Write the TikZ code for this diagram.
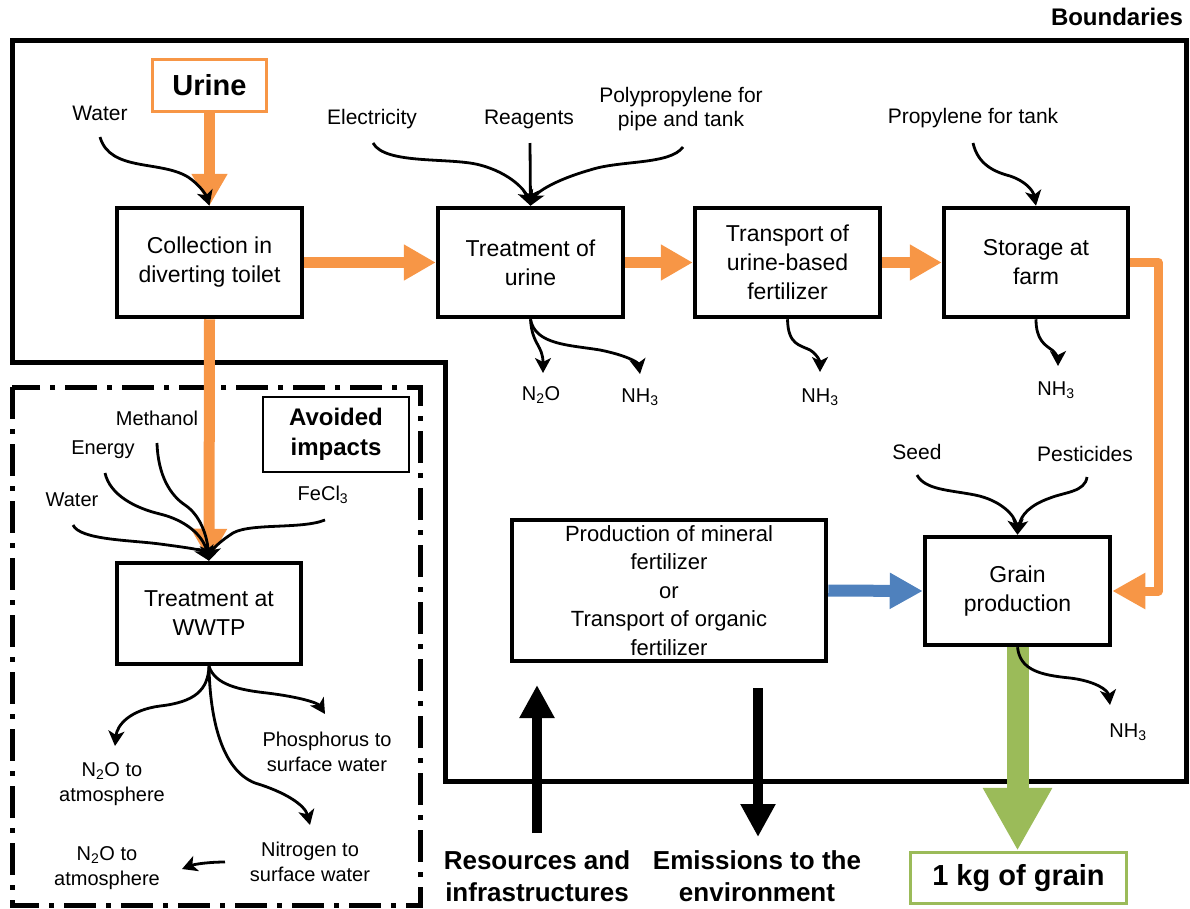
\documentclass[tikz,border=0pt]{standalone}
\usepackage{fontspec}
\setmainfont{Liberation Sans}
\usetikzlibrary{arrows.meta,calc}
\definecolor{uorange}{HTML}{F79646}
\definecolor{ublue}{HTML}{4F81BD}
\definecolor{ugreen}{HTML}{9BBB59}
\begin{document}
\begin{tikzpicture}[x=1pt,y=-1pt,
  box/.style={draw, line width=4.5pt, align=center, inner sep=0pt, font=\fontsize{23}{29}\selectfont},
  lab/.style={inner sep=0pt, align=center, font=\fontsize{21}{24}\selectfont},
  emis/.style={inner sep=0pt, align=center, font=\fontsize{20}{25}\selectfont},
  btext/.style={inner sep=0pt, align=center, font=\fontsize{26}{32}\selectfont\bfseries},
  flow/.style={line width=2.8pt, -{Stealth[length=15pt,width=16pt,inset=4pt]}},
  oflow/.style={draw=uorange, line width=11pt, -{Triangle[length=32pt,width=34pt]}},
  bflow/.style={draw=black, line width=10pt, -{Triangle[length=33pt,width=33pt]}}
]
\useasboundingbox (0,0) rectangle (1190,908);

% system boundary and avoided-impacts frame
\draw[line width=5pt, line join=miter] (12,40) -- (1186,40) -- (1186,781) -- (445,781) -- (445,362) -- (12,362) -- cycle;
\draw[line width=5pt, dash pattern=on 32pt off 10pt on 5pt off 10pt] (12,387) rectangle (420,905);

% boxes
\node[draw=uorange, line width=3pt, minimum width=114pt, minimum height=52pt, inner sep=0pt, font=\fontsize{29}{32}\selectfont\bfseries] (urine) at (209.5,85.5) {Urine};
\node[box, minimum width=185pt, minimum height=109pt] (coll) at (209.5,262.5) {Collection in\\diverting toilet};
\node[box, minimum width=185pt, minimum height=109pt] (tre) at (530.5,262.5) {Treatment of\\urine};
\node[box, minimum width=185pt, minimum height=109pt] (tra) at (787.5,262.5) {Transport of\\urine-based\\fertilizer};
\node[box, minimum width=184pt, minimum height=109pt] (sto) at (1036,262.5) {Storage at\\farm};
\node[box, minimum width=185pt, minimum height=108pt] (gra) at (1017.5,591) {Grain\\production};
\node[box, minimum width=314pt, minimum height=141pt, font=\fontsize{22}{28.5}\selectfont] (prod) at (669,590.5) {Production of mineral\\fertilizer\\or\\Transport of organic\\fertilizer};
\node[box, minimum width=184pt, minimum height=101pt] (wwtp) at (209,613.5) {Treatment at\\WWTP};
\node[draw, line width=2.5pt, minimum width=146pt, minimum height=75pt, inner sep=0pt, align=center, font=\fontsize{24}{30}\selectfont\bfseries] (avoid) at (336,434.5) {Avoided\\impacts};
\node[draw=ugreen, line width=3.5pt, minimum width=216pt, minimum height=51pt, inner sep=0pt, font=\fontsize{29}{32}\selectfont\bfseries] (kg) at (1018.5,878) {1 kg of grain};

% labels
\node[inner sep=0pt, font=\fontsize{24}{28}\selectfont\bfseries] (bound) at (1117,17) {Boundaries};
\node[lab] (lwater) at (100,113) {Water};
\node[lab] (lelec) at (372,119) {Electricity};
\node[lab] (lreag) at (529,119) {Reagents};
\node[lab] (lpoly) at (681,109) {Polypropylene for\\pipe and tank};
\node[lab] (lprop) at (973,118) {Propylene for tank};
\node[lab] (lseed) at (917,452) {Seed};
\node[lab] (lpest) at (1085,454) {Pesticides};
\node[emis] (ln2o) at (541,395) {N\textsubscript{2}O};
\node[emis] (lnh3a) at (640,397) {NH\textsubscript{3}};
\node[emis] (lnh3b) at (820,397) {NH\textsubscript{3}};
\node[emis] (lnh3c) at (1056,390) {NH\textsubscript{3}};
\node[emis] (lnh3d) at (1128,732) {NH\textsubscript{3}};
\node[emis] (lmeth) at (157,418) {Methanol};
\node[emis] (lener) at (103,450) {Energy};
\node[emis] (lwat2) at (72,500) {Water};
\node[emis] (lfecl) at (323,495) {FeCl\textsubscript{3}};
\node[emis] (lo1) at (112,784) {N\textsubscript{2}O to\\atmosphere};
\node[emis] (lo2) at (327,752) {Phosphorus to\\surface water};
\node[emis] (lo3) at (310,862) {Nitrogen to\\surface water};
\node[emis] (lo4) at (107,868) {N\textsubscript{2}O to\\atmosphere};
\node[btext] (res) at (537,876) {Resources and\\infrastructures};
\node[btext] (emi) at (757,876) {Emissions to the\\environment};

% fat flows
\draw[oflow] (urine.south) -- (coll.north);
\draw[oflow] (coll.east) -- (tre.west);
\draw[oflow] (tre.east) -- (tra.west);
\draw[oflow] (tra.east) -- (sto.west);
\draw[oflow] (coll.south) -- (wwtp.north);
\draw[oflow, line width=9pt, line join=round, -{Triangle[length=33pt,width=34pt]}] (sto.east) -| ([xshift=46pt]gra.east) -- (gra.east);
\draw[draw=ublue, line width=12pt, -{Triangle[length=33pt,width=34pt]}] (prod.east) -- (gra.west);
\draw[draw=ugreen, line width=22pt, -{Triangle[length=63pt,width=65pt]}] (gra.south) -- (gra.south |- kg.north);
\coordinate (resBase) at (537,833);
\coordinate (resTip) at (537,685);
\coordinate (emiTop) at (758,688);
\coordinate (emiTip) at (758,837);
\draw[bflow] (resBase) -- (resTip);
\draw[bflow] (emiTop) -- (emiTip);

% thin input / output arrows
\coordinate (sWater) at (100,137);
\coordinate (sElec) at (373,143);
\coordinate (sReag) at (530,143);
\coordinate (sPoly) at (683,147);
\coordinate (sProp) at (973,143);
\coordinate (sSeed) at (917,475);
\coordinate (sPest) at (1087,477);
\coordinate (sMeth) at (157,443);
\coordinate (sEner) at (105,473);
\coordinate (sWat2) at (73,525);
\coordinate (sFecl) at (325,520);
\coordinate (eN2Oa) at (543,373);
\coordinate (eNH3a) at (640,374);
\coordinate (eNH3b) at (820,372);
\coordinate (eNH3c) at (1058,366);
\coordinate (eNH3d) at (1110,705);
\coordinate (eO1) at (115,746);
\coordinate (eO2) at (325,714);
\coordinate (eO3) at (310,825);
\coordinate (sO4) at (225,862);
\coordinate (eO4) at (182,869);

\draw[flow] (sWater) .. controls (110,172) and (160,160) .. (188,177) .. controls (200,185) and (206,195) .. (coll.north);
\draw[flow] (sElec) .. controls (385,165) and (450,157) .. (480,165) .. controls (510,173) and (525,190) .. (tre.north);
\draw[flow] (sReag) -- (tre.north);
\draw[flow] (sPoly) .. controls (670,165) and (620,160) .. (590,170) .. controls (555,180) and (537,192) .. (tre.north);
\draw[flow] (tre.south) .. controls (532,345) and (543,345) .. (eN2Oa);
\draw[flow] (tre.south) .. controls (535,345) and (570,345) .. (600,350) .. controls (625,355) and (638,362) .. (eNH3a);
\draw[flow] (tra.south) .. controls (788,345) and (800,345) .. (810,350) .. controls (818,355) and (820,362) .. (eNH3b);
\draw[flow] (sProp) .. controls (978,165) and (995,172) .. (1010,176) .. controls (1025,181) and (1033,190) .. (sto.north);
\draw[flow] (sto.south) .. controls (1036,340) and (1045,345) .. (1052,350) .. controls (1058,355) and (1058,360) .. (eNH3c);
\draw[flow] (sSeed) .. controls (925,490) and (950,490) .. (975,495) .. controls (1000,500) and (1015,515) .. (gra.north);
\draw[flow] (sPest) .. controls (1085,492) and (1065,492) .. (1050,498) .. controls (1030,505) and (1021,515) .. (gra.north);
\draw[flow] (gra.south) .. controls (1020,670) and (1040,675) .. (1070,678) .. controls (1095,681) and (1108,690) .. (eNH3d);

\draw[flow] (sMeth) .. controls (158,475) and (170,495) .. (185,505) .. controls (200,515) and (207,535) .. (wwtp.north);
\draw[flow] (sEner) .. controls (110,495) and (135,508) .. (160,514) .. controls (185,520) and (203,535) .. (wwtp.north);
\draw[flow] (sWat2) .. controls (80,540) and (130,540) .. (160,544) .. controls (190,548) and (203,550) .. (wwtp.north);
\draw[flow] (sFecl) .. controls (300,530) and (245,522) .. (230,535) .. controls (218,543) and (212,550) .. (wwtp.north);
\draw[flow] (wwtp.south) .. controls (208,690) and (195,702) .. (160,706) .. controls (130,710) and (117,725) .. (eO1);
\draw[flow] (wwtp.south) .. controls (215,685) and (240,690) .. (267,693) .. controls (300,697) and (318,703) .. (eO2);
\draw[flow] (wwtp.south) .. controls (210,720) and (222,770) .. (255,783) .. controls (285,792) and (305,805) .. (eO3);
\draw[flow] (sO4) .. controls (210,862) and (195,864) .. (eO4);
\end{tikzpicture}
\end{document}
